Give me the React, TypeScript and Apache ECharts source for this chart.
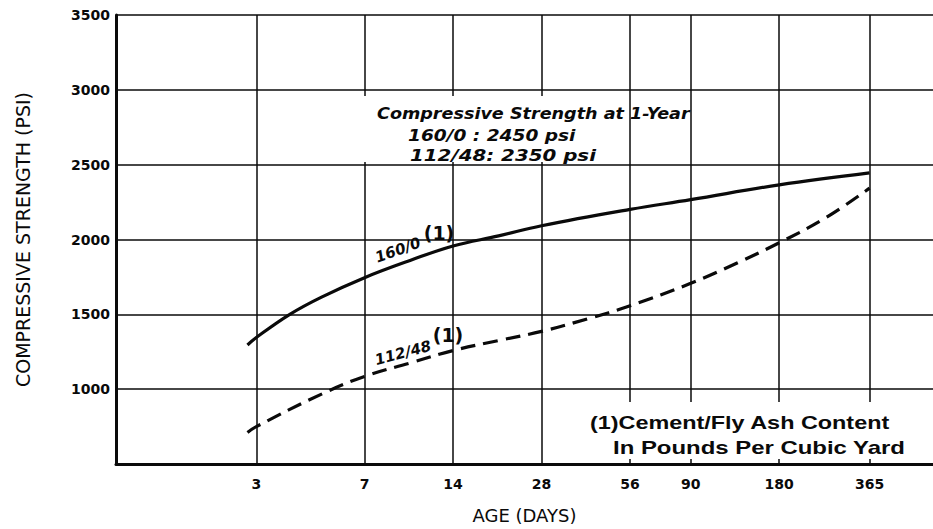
import React, { useEffect, useRef } from "react";
import * as echarts from "echarts";

const ageTicks = [3, 7, 14, 28, 56, 90, 180, 365];
const ages160 = [2.8, 3, 3.9, 5, 7, 10, 14, 20, 28, 56, 90, 180, 365];
const psi160 = [1295, 1345, 1500, 1615, 1745, 1860, 1957, 2024, 2092, 2201, 2266, 2365, 2445];
const ages112 = [2.8, 3, 5, 7, 10, 14, 20, 28, 40, 56, 90, 130, 180, 260, 365];
const psi112 = [711, 750, 967, 1085, 1175, 1258, 1325, 1386, 1469, 1557, 1707, 1845, 1978, 2147, 2343];

const noteLines = ["Compressive Strength at 1-Year", "160/0 : 2450 psi", "112/48: 2350 psi"];
const footLines = ["(1)Cement/Fly Ash Content", "In Pounds Per Cubic Yard"];

export default function App() {
  const ref = useRef<HTMLDivElement>(null);
  useEffect(() => {
    document.body.style.margin = "0";
    const chart = echarts.init(ref.current!, null, { renderer: "svg" });
    const ink = "#0a0a0a";
    const tickFont = { color: ink, fontFamily: "DejaVu Sans", fontWeight: "bold" as const, fontSize: 14 };
    const italic = (text: string, x: number, y: number, sx: number) => ({
      type: "text", x, y, scaleX: sx, z: 11,
      style: { text, fill: ink, fontFamily: "DejaVu Sans", fontStyle: "italic", fontWeight: "bold", fontSize: 16, align: "left", verticalAlign: "middle" },
    });
    const bold = (text: string, x: number, y: number, sx: number) => ({
      type: "text", x, y, scaleX: sx, z: 11,
      style: { text, fill: ink, fontFamily: "Liberation Sans", fontWeight: "bold", fontSize: 18, align: "left", verticalAlign: "middle" },
    });
    chart.setOption({
      animation: false,
      backgroundColor: "#fff",
      grid: { left: 116, top: 15, width: 824, height: 453 },
      xAxis: {
        type: "log", logBase: 10, min: 1, max: 600,
        axisLine: { show: true, onZero: false, lineStyle: { color: ink, width: 3 } },
        axisTick: { show: false, customValues: ageTicks },
        axisLabel: { ...tickFont, customValues: ageTicks, margin: 13, formatter: (v: number) => String(Math.round(v)) },
        splitLine: { show: true, lineStyle: { color: ink, width: 1.5 } },
        minorTick: { show: false }, minorSplitLine: { show: false },
        name: "AGE (DAYS)", nameLocation: "middle", nameGap: 42,
        nameTextStyle: { color: ink, fontFamily: "DejaVu Sans", fontSize: 18 },
      },
      yAxis: {
        type: "value", min: 500, max: 3500, interval: 500,
        axisLine: { show: true, lineStyle: { color: ink, width: 3 } },
        axisTick: { show: false },
        axisLabel: { ...tickFont, showMinLabel: false, margin: 6, formatter: (v: number) => String(v) },
        splitLine: { show: true, lineStyle: { color: ink, width: 1.5 } },
        name: "COMPRESSIVE STRENGTH (PSI)", nameLocation: "middle", nameGap: 84, nameRotate: 90,
        nameTextStyle: { color: ink, fontFamily: "DejaVu Sans", fontSize: 19 },
      },
      series: [
        {
          name: "160/0", type: "line", smooth: 0.4, showSymbol: false,
          data: ages160.map((d, i) => [d, psi160[i]]),
          lineStyle: { color: ink, width: 3.2 },
        },
        {
          name: "112/48", type: "line", smooth: 0.4, showSymbol: false,
          data: ages112.map((d, i) => [d, psi112[i]]),
          lineStyle: { color: ink, width: 3.2, type: [15, 8] },
        },
      ],
      graphic: {
        elements: [
          { type: "rect", z: 10, shape: { x: 362, y: 96, width: 266, height: 66 }, style: { fill: "#fff" } },
          { type: "rect", z: 10, shape: { x: 584, y: 402, width: 328, height: 57 }, style: { fill: "#fff" } },
          italic(noteLines[0], 377, 113, 1.1),
          italic(noteLines[1], 408, 135, 1.16),
          italic(noteLines[2], 410, 155, 1.24),
          bold(footLines[0], 590, 423, 1.3),
          bold(footLines[1], 613, 448, 1.33),
          {
            type: "text", x: 398, y: 250, rotation: 0.35, scaleX: 1.0, z: 11,
            style: { text: "160/0", fill: ink, fontFamily: "DejaVu Sans", fontStyle: "italic", fontWeight: "bold", fontSize: 15, align: "center", verticalAlign: "middle" },
          },
          {
            type: "text", x: 439, y: 233, z: 11,
            style: { text: "(1)", fill: ink, fontFamily: "DejaVu Sans", fontWeight: "bold", fontSize: 19, align: "center", verticalAlign: "middle" },
          },
          {
            type: "text", x: 403, y: 353, rotation: 0.26, scaleX: 1.0, z: 11,
            style: { text: "112/48", fill: ink, fontFamily: "DejaVu Sans", fontStyle: "italic", fontWeight: "bold", fontSize: 15, align: "center", verticalAlign: "middle" },
          },
          {
            type: "text", x: 448, y: 335, z: 11,
            style: { text: "(1)", fill: ink, fontFamily: "DejaVu Sans", fontWeight: "bold", fontSize: 19, align: "center", verticalAlign: "middle" },
          },
        ],
      },
    });
    return () => chart.dispose();
  }, []);
  return <div ref={ref} style={{ width: 933, height: 529 }} />;
}
